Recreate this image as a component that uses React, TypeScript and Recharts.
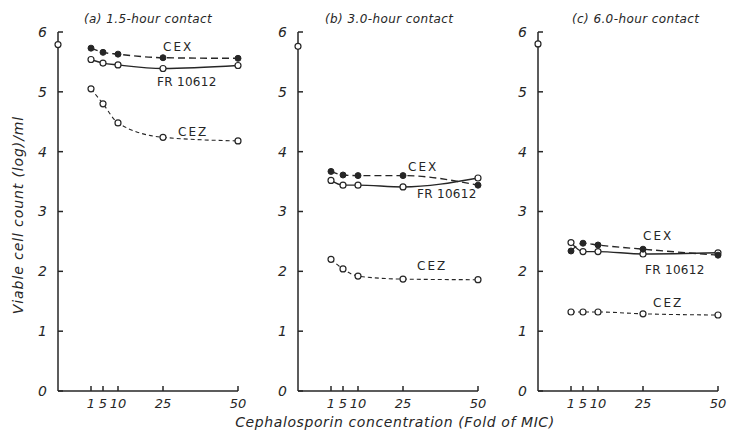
import { LineChart, Line, XAxis, YAxis } from "recharts";

// Fold of MIC on the x axis; the untreated start count sits on the y axis.
const concentrations = [1, 5, 10, 25, 50];
const controlX = -10;
const yTicks = [0, 1, 2, 3, 4, 5, 6];

const panelTitles = ["(a) 1.5-hour contact", "(b) 3.0-hour contact", "(c) 6.0-hour contact"];
const initialCounts = [5.79, 5.76, 5.8];

// log viable cells / ml at each concentration
const cexA = [5.73, 5.66, 5.63, 5.57, 5.56];
const frA = [5.54, 5.48, 5.45, 5.39, 5.44];
const cezA = [5.05, 4.8, 4.48, 4.24, 4.18];

const cexB = [3.67, 3.61, 3.6, 3.6, 3.44];
const frB = [3.52, 3.44, 3.44, 3.41, 3.56];
const cezB = [2.2, 2.04, 1.92, 1.87, 1.86];

const cexC = [2.34, 2.47, 2.44, 2.37, 2.27];
const frC = [2.48, 2.33, 2.33, 2.29, 2.31];
const cezC = [1.32, 1.32, 1.32, 1.29, 1.27];

const INK = "#262626";
const FONT = "'DejaVu Sans', sans-serif";

const panels = [
  { left: 18, cex: cexA, fr: frA, cez: cezA },
  { left: 258, cex: cexB, fr: frB, cez: cezB },
  { left: 498, cex: cexC, fr: frC, cez: cezC },
];

// label placement per panel (pixels in the page)
const titlePos = [
  { x: 84, y: 11 },
  { x: 325, y: 11 },
  { x: 572, y: 11 },
];
const seriesLabelPos = [
  { cex: { x: 163, y: 39 }, fr: { x: 157, y: 74 }, cez: { x: 178, y: 124 } },
  { cex: { x: 408, y: 159 }, fr: { x: 417, y: 186 }, cez: { x: 417, y: 258 } },
  { cex: { x: 643, y: 228 }, fr: { x: 645, y: 262 }, cez: { x: 653, y: 295 } },
];

function buildRows(i: number) {
  const p = panels[i];
  return [
    { x: controlX, initial: initialCounts[i] },
    ...concentrations.map((c, k) => ({ x: c, cex: p.cex[k], fr: p.fr[k], cez: p.cez[k] })),
  ];
}

const openDot = { r: 3, fill: "#fff", stroke: INK, strokeWidth: 1.2, strokeDasharray: "none" };
const filledDot = { r: 3, fill: INK, stroke: INK, strokeWidth: 1, strokeDasharray: "none" };

function Panel({ index }: { index: number }) {
  const rows = buildRows(index);
  return (
    <div style={{ position: "absolute", left: panels[index].left, top: 0 }}>
      <LineChart
        width={230}
        height={434}
        data={rows}
        margin={{ top: 32, right: 10, left: 0, bottom: 13 }}
      >
        <XAxis
          type="number"
          dataKey="x"
          domain={[controlX, 50]}
          ticks={concentrations}
          interval={0}
          height={30}
          tickSize={-5}
          tickMargin={13}
          stroke={INK}
          strokeWidth={1.5}
          tick={{ fill: INK, fontSize: 13, fontStyle: "italic", fontFamily: FONT }}
        />
        <YAxis
          type="number"
          domain={[0, 6]}
          ticks={yTicks}
          interval={0}
          width={40}
          tickSize={-5}
          tickMargin={16}
          stroke={INK}
          strokeWidth={1.5}
          tick={{ fill: INK, fontSize: 14, fontStyle: "italic", fontFamily: FONT }}
        />
        <Line
          dataKey="cez"
          type="monotone"
          stroke={INK}
          strokeWidth={1.1}
          strokeDasharray="4 3"
          dot={openDot}
          isAnimationActive={false}
        />
        <Line
          dataKey="fr"
          type="monotone"
          stroke={INK}
          strokeWidth={1.4}
          dot={openDot}
          isAnimationActive={false}
        />
        <Line
          dataKey="cex"
          type="monotone"
          stroke={INK}
          strokeWidth={1.4}
          strokeDasharray="7 4"
          dot={filledDot}
          isAnimationActive={false}
        />
        <Line
          dataKey="initial"
          stroke="none"
          dot={openDot}
          isAnimationActive={false}
        />
      </LineChart>
    </div>
  );
}

const textBase = {
  position: "absolute" as const,
  color: INK,
  fontFamily: FONT,
  fontStyle: "italic",
  whiteSpace: "nowrap" as const,
  lineHeight: "16px",
};

export default function App() {
  return (
    <div
      style={{
        position: "absolute",
        left: 0,
        top: 0,
        width: 729,
        height: 434,
        background: "#fff",
        overflow: "hidden",
      }}
    >
      {panels.map((_, i) => (
        <Panel key={i} index={i} />
      ))}

      {panelTitles.map((t, i) => (
        <div
          key={t}
          style={{ ...textBase, left: titlePos[i].x, top: titlePos[i].y, fontSize: 12, letterSpacing: 0.4 }}
        >
          {t}
        </div>
      ))}

      {seriesLabelPos.map((pos, i) => (
        <div key={i}>
          <div style={{ ...textBase, left: pos.cex.x, top: pos.cex.y, fontSize: 12, fontStyle: "normal", letterSpacing: 2 }}>
            CEX
          </div>
          <div style={{ ...textBase, left: pos.fr.x, top: pos.fr.y, fontSize: 12, fontStyle: "normal", letterSpacing: 0.3 }}>
            FR 10612
          </div>
          <div style={{ ...textBase, left: pos.cez.x, top: pos.cez.y, fontSize: 12, fontStyle: "normal", letterSpacing: 2 }}>
            CEZ
          </div>
        </div>
      ))}

      <div
        style={{
          ...textBase,
          left: 18,
          top: 215,
          fontSize: 14,
          letterSpacing: 0.9,
          transform: "translate(-50%, -50%) rotate(-90deg)",
        }}
      >
        Viable cell count (log)/ml
      </div>

      <div
        style={{
          ...textBase,
          left: 395,
          top: 422,
          fontSize: 14,
          letterSpacing: 0.6,
          transform: "translate(-50%, -50%)",
        }}
      >
        Cephalosporin concentration (Fold of MIC)
      </div>
    </div>
  );
}
